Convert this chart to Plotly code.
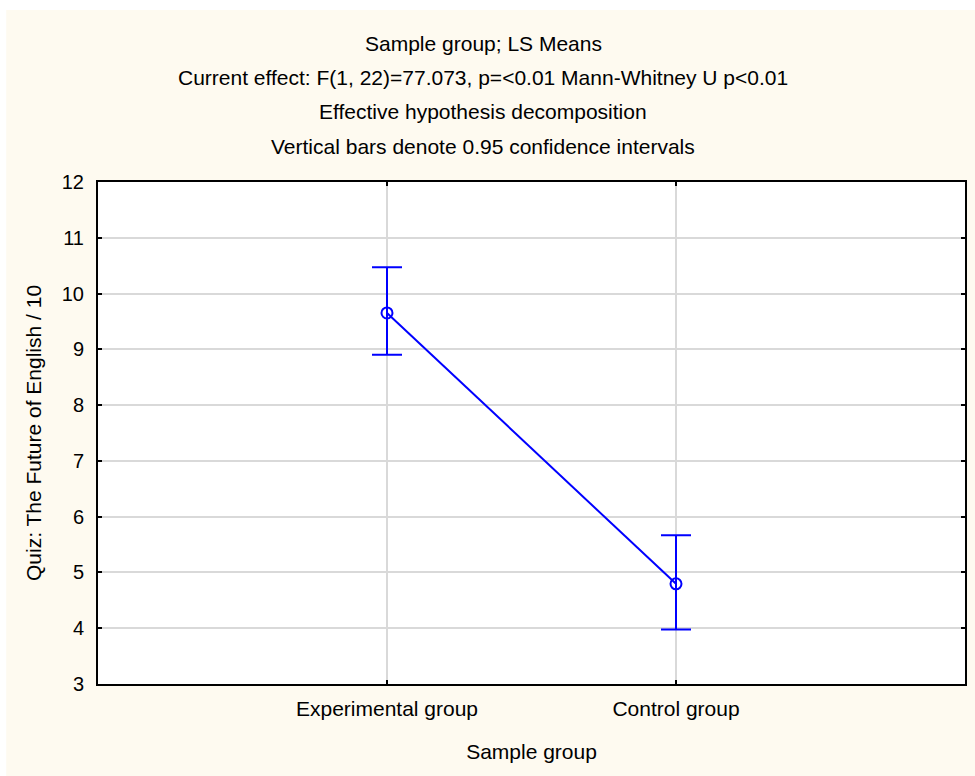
import plotly.graph_objects as go

categories = ["Experimental group", "Control group"]
cat_pos = [0, 1]
means = [9.652, 4.796]
upper = [10.47, 5.667]
lower = [8.905, 3.977]
y_ticks = [3, 4, 5, 6, 7, 8, 9, 10, 11, 12]

title_lines = [
    "Sample group; LS Means",
    "Current effect: F(1, 22)=77.073, p=<0.01 Mann-Whitney U p<0.01",
    "Effective hypothesis decomposition",
    "Vertical bars denote 0.95 confidence intervals",
]

W, H = 975, 776
L, T = 98, 182
R = W - 967
B = H - 684
pw, ph = W - L - R, H - T - B

def px_x(x):
    return (x - L) / pw

def px_y(y):
    return (H - B - y) / ph

FONT = "Liberation Sans, Arial, sans-serif"
FS = 21
FS_NUM = 20
BLUE = "#0000ff"
CREAM = "#fefaf0"

err_plus = [u - m for u, m in zip(upper, means)]
err_minus = [m - l for m, l in zip(means, lower)]

fig = go.Figure()
fig.add_trace(go.Scatter(
    x=cat_pos, y=means, mode="lines+markers",
    line=dict(color=BLUE, width=2),
    marker=dict(symbol="circle-open", size=11, color=BLUE, line=dict(width=2, color=BLUE)),
    error_y=dict(type="data", symmetric=False, array=err_plus, arrayminus=err_minus,
                 color=BLUE, thickness=2, width=15),
    showlegend=False, hoverinfo="skip",
))

# white strips along the top and left edge of the page
shapes = [
    dict(type="rect", xref="paper", yref="paper", layer="below",
         x0=px_x(-10), x1=px_x(W + 10), y0=px_y(10), y1=px_y(-10),
         fillcolor="white", line=dict(width=0)),
    dict(type="rect", xref="paper", yref="paper", layer="below",
         x0=px_x(-10), x1=px_x(6), y0=px_y(H + 10), y1=px_y(-10),
         fillcolor="white", line=dict(width=0)),
]

annotations = []
title_y = [43, 78, 112, 146]
for txt, yy in zip(title_lines, title_y):
    annotations.append(dict(text=txt, xref="paper", yref="paper",
                            x=px_x(484), y=px_y(yy), xanchor="center", yanchor="middle",
                            showarrow=False, font=dict(family=FONT, size=FS, color="black")))

fig.update_layout(
    width=W, height=H,
    margin=dict(l=L, r=R, t=T, b=B),
    paper_bgcolor=CREAM, plot_bgcolor="white",
    shapes=shapes, annotations=annotations,
    font=dict(family=FONT, size=FS, color="black"),
    xaxis=dict(
        range=[-1, 2], tickmode="array", tickvals=cat_pos, ticktext=categories,
        tickfont=dict(family=FONT, size=FS),
        showgrid=True, gridcolor="#d9d9d9", gridwidth=2,
        showline=True, linecolor="black", linewidth=2, mirror="ticks",
        ticks="inside", ticklen=4, tickwidth=2, tickcolor="black",
        zeroline=False, ticklabelstandoff=5,
        title=dict(text="Sample group", standoff=25, font=dict(family=FONT, size=FS)),
    ),
    yaxis=dict(
        range=[3, 12], tickmode="array", tickvals=y_ticks,
        tickfont=dict(family=FONT, size=FS_NUM),
        showgrid=True, gridcolor="#d9d9d9", gridwidth=2,
        showline=True, linecolor="black", linewidth=2, mirror="ticks",
        ticks="inside", ticklen=4, tickwidth=2, tickcolor="black",
        zeroline=False, ticklabelstandoff=8,
        title=dict(text="Quiz: The Future of English / 10", standoff=14, font=dict(family=FONT, size=FS)),
    ),
)

fig.write_html("out.html", config={"displayModeBar": False},
               post_script="document.body.style.margin='0px';")
